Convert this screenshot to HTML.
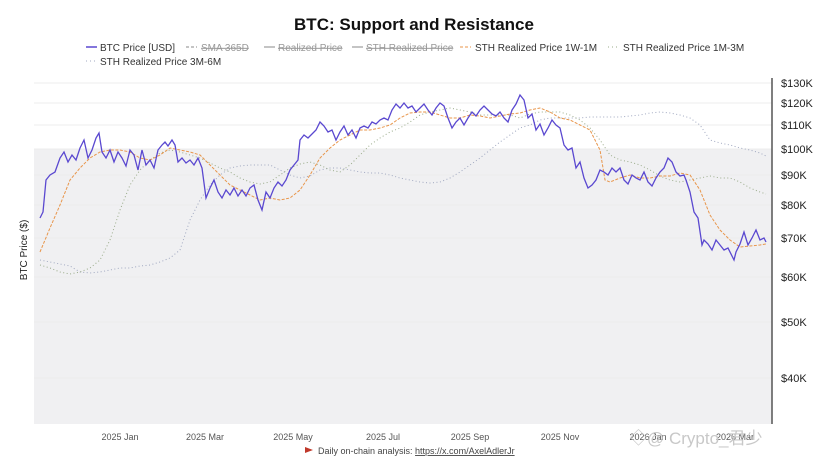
<!DOCTYPE html>
<html><head><meta charset="utf-8"><style>
body{margin:0;background:#fff;font-family:"Liberation Sans",sans-serif;}
svg text{font-family:"Liberation Sans","Noto Sans CJK SC",sans-serif;}
</style></head><body>
<svg width="828" height="466" viewBox="0 0 828 466" xmlns="http://www.w3.org/2000/svg">
<text x="414" y="30" text-anchor="middle" font-size="17" font-weight="bold" fill="#111">BTC: Support and Resistance</text>
<g font-size="10" fill="#333">
<line x1="86" y1="47" x2="97" y2="47" stroke="#5a48d0" stroke-width="1.5"/><text x="100" y="51">BTC Price [USD]</text>
<line x1="186" y1="47" x2="197" y2="47" stroke="#888" stroke-dasharray="3,2"/><text x="201" y="51" fill="#999" text-decoration="line-through">SMA 365D</text>
<line x1="264" y1="47" x2="275" y2="47" stroke="#888"/><text x="278" y="51" fill="#999" text-decoration="line-through">Realized Price</text>
<line x1="352" y1="47" x2="363" y2="47" stroke="#888"/><text x="366" y="51" fill="#999" text-decoration="line-through">STH Realized Price</text>
<line x1="460" y1="47" x2="471" y2="47" stroke="#e8954a" stroke-dasharray="3,2"/><text x="475" y="51">STH Realized Price 1W-1M</text>
<line x1="608" y1="47" x2="619" y2="47" stroke="#9aab8a" stroke-dasharray="1,3"/><text x="623" y="51">STH Realized Price 1M-3M</text>
<line x1="86" y1="61" x2="97" y2="61" stroke="#a0a8c0" stroke-dasharray="1,3"/><text x="100" y="65">STH Realized Price 3M-6M</text>
</g>
<rect x="34" y="149" width="738" height="275" fill="#f0f0f2"/>
<g stroke="#ececec" stroke-width="1">
<line x1="34" y1="83" x2="772" y2="83"/><line x1="34" y1="103" x2="772" y2="103"/><line x1="34" y1="125" x2="772" y2="125"/><line x1="34" y1="149" x2="772" y2="149"/><line x1="34" y1="175" x2="772" y2="175"/><line x1="34" y1="205" x2="772" y2="205"/><line x1="34" y1="238" x2="772" y2="238"/><line x1="34" y1="277" x2="772" y2="277"/><line x1="34" y1="322" x2="772" y2="322"/><line x1="34" y1="378" x2="772" y2="378"/>
</g>
<line x1="772" y1="78" x2="772" y2="424" stroke="#555" stroke-width="1.5"/>
<g font-size="11" fill="#222">
<text x="781" y="87">$130K</text><text x="781" y="107">$120K</text><text x="781" y="129">$110K</text><text x="781" y="153">$100K</text><text x="781" y="179">$90K</text><text x="781" y="209">$80K</text><text x="781" y="242">$70K</text><text x="781" y="281">$60K</text><text x="781" y="326">$50K</text><text x="781" y="382">$40K</text>
</g>
<text x="27" y="250" font-size="10" fill="#222" transform="rotate(-90 27 250)" text-anchor="middle">BTC Price ($)</text>
<g font-size="9" fill="#555" text-anchor="middle">
<text x="120" y="440">2025 Jan</text><text x="205" y="440">2025 Mar</text><text x="293" y="440">2025 May</text><text x="383" y="440">2025 Jul</text><text x="470" y="440">2025 Sep</text><text x="560" y="440">2025 Nov</text><text x="648" y="440">2026 Jan</text><text x="735" y="440">2026 Mar</text>
</g>
<polyline fill="none" stroke="#a0a8c0" stroke-width="1" stroke-dasharray="1,2.5" points="40,260 50,262 60,264 70,266 80,272 90,273 100,272 110,270 120,268 130,268 140,266 150,265 160,262 170,258 180,250 190,220 200,200 210,185 220,175 230,168 240,166 250,165 260,165 270,165 280,170 290,175 300,178 310,176 320,170 330,168 340,168 350,170 360,172 370,173 380,173 390,175 400,178 410,180 420,182 430,183 440,182 450,178 460,172 470,165 480,158 490,150 500,142 510,135 520,128 530,125 540,120 550,118 560,118 570,118 580,118 590,117 600,117 610,117 620,117 630,116 640,115 650,113 660,112 670,113 680,115 690,118 700,125 710,140 720,143 730,145 740,148 750,150 760,153 766,156"/>
<polyline fill="none" stroke="#9aab8a" stroke-width="1" stroke-dasharray="1,2.5" points="40,265 50,268 60,272 70,274 80,272 90,268 100,260 110,240 120,210 130,185 140,170 150,160 160,153 170,150 180,152 190,155 200,158 210,163 220,168 230,172 240,178 250,182 260,184 270,182 280,175 290,168 300,164 310,162 320,165 330,170 340,172 350,165 360,155 370,145 380,138 390,132 400,128 410,122 420,115 430,112 440,110 450,108 460,110 470,112 480,115 490,115 500,115 510,115 520,118 530,114 540,112 550,112 560,112 570,115 580,120 590,128 600,140 610,155 620,160 630,162 640,165 650,170 660,176 670,180 680,182 690,180 700,178 710,176 720,178 730,178 740,182 750,188 760,192 766,194"/>
<polyline fill="none" stroke="#e8954a" stroke-width="1" stroke-dasharray="3,1.5" points="40,252 50,228 60,205 70,180 80,168 90,158 100,152 110,150 120,150 130,152 140,158 150,160 160,155 170,148 180,150 190,152 200,155 210,165 220,175 230,185 240,190 250,195 260,200 270,198 280,200 290,198 300,190 310,175 320,158 330,148 340,140 350,135 360,130 370,130 380,128 390,125 400,118 410,113 420,112 430,112 440,115 450,118 460,118 470,115 480,116 490,118 500,116 510,114 520,113 530,110 540,108 550,112 560,118 570,120 580,125 590,130 600,150 605,180 610,182 620,178 630,175 640,178 650,178 660,176 670,176 680,173 690,175 700,190 710,215 720,230 730,240 740,247 750,246 760,245 766,244"/>
<polyline fill="none" stroke="#5a48d0" stroke-width="1.3" points="40,218 43,212 46,180 50,175 55,172 60,158 64,152 68,162 72,155 76,160 80,148 84,140 88,158 92,150 96,138 99,133 102,152 106,158 110,150 114,162 118,152 122,158 126,166 130,150 134,155 138,170 142,150 146,165 150,160 154,168 158,150 162,145 165,142 168,146 172,140 175,145 178,162 182,158 186,163 190,160 194,165 198,158 202,168 206,198 210,188 214,180 218,192 222,198 226,190 230,195 234,188 238,196 242,190 246,196 250,188 254,185 258,200 262,210 266,192 270,198 274,188 278,182 282,186 286,180 290,170 294,165 298,160 300,140 304,135 308,138 312,134 316,130 320,122 324,126 328,132 332,130 336,140 340,132 344,126 348,135 352,130 356,138 360,128 364,126 368,128 372,122 376,124 380,120 384,118 388,120 392,110 396,104 400,108 404,103 408,108 412,106 416,112 420,108 424,104 428,110 432,115 436,108 440,103 444,106 448,118 452,128 456,122 460,118 464,125 468,118 472,112 476,116 480,110 484,106 488,110 492,114 496,116 500,112 504,118 508,122 512,110 516,104 520,95 524,100 528,118 532,114 536,130 540,124 544,135 548,128 552,120 556,125 560,128 564,145 568,150 572,148 576,168 580,162 584,178 588,188 592,185 596,180 600,170 604,172 608,175 612,168 616,172 620,168 624,180 628,184 632,175 636,178 640,180 644,172 648,182 652,186 656,178 660,172 664,168 668,158 672,162 676,172 680,176 684,175 686,180 690,192 694,212 698,218 702,245 704,240 708,244 712,250 716,240 720,245 724,250 728,248 732,256 734,260 736,252 740,244 744,232 748,245 752,238 756,230 760,240 764,238 766,242"/>
<path d="M305 447 L313 450 L305 453 Z" fill="#c0392b"/>
<text x="318" y="454" font-size="9" fill="#444">Daily on-chain analysis: <tspan text-decoration="underline">https://x.com/AxelAdlerJr</tspan></text>
<text x="630" y="444" font-size="17" fill="#c8c8c8">◇@ Crypto_君少</text>
</svg>
</body></html>
